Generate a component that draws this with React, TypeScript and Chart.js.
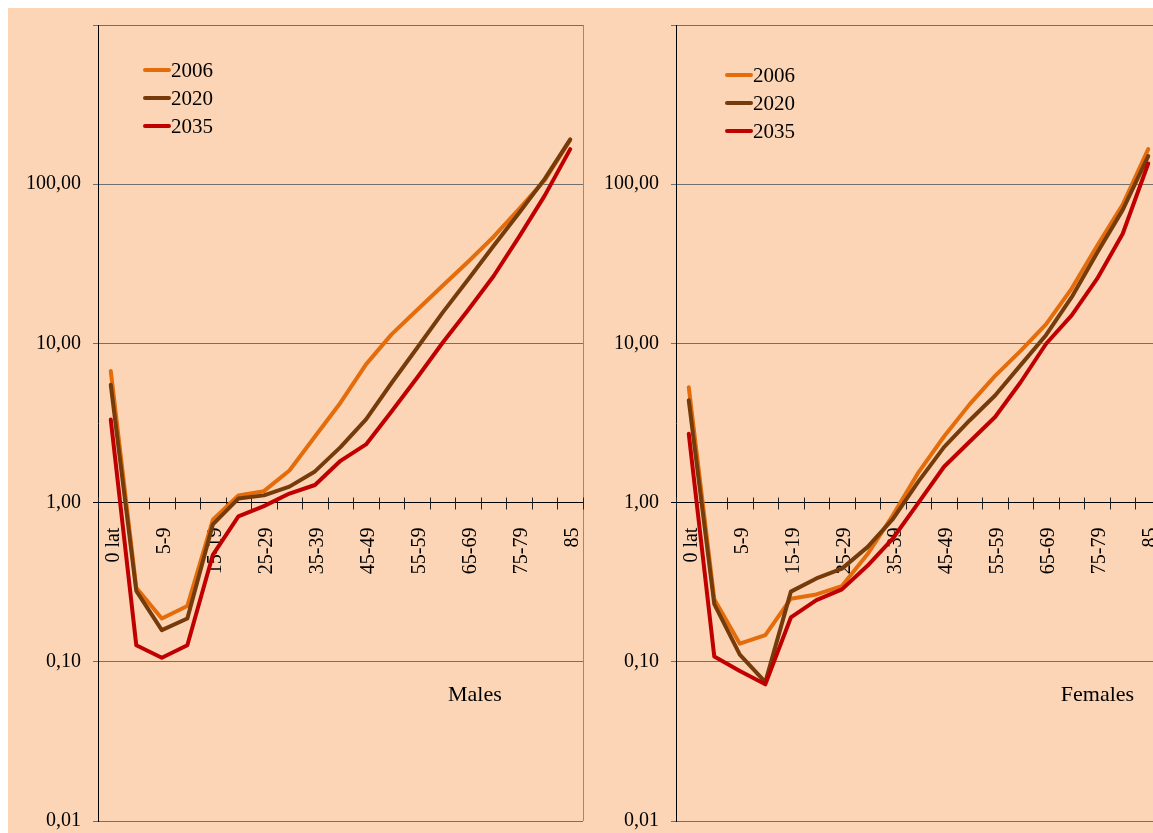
import React, { useEffect, useRef } from 'react';
import { Chart, registerables } from 'chart.js';

Chart.register(...registerables);

const SERIF = "'Liberation Serif', 'Times New Roman', serif";

const ageGroups = ['0 lat', '1-4', '5-9', '10-14', '15-19', '20-24', '25-29', '30-34', '35-39', '40-44', '45-49', '50-54', '55-59', '60-64', '65-69', '70-74', '75-79', '80-84', '85'];
const years = ['2006', '2020', '2035'];
const yTickValues = [0.01, 0.1, 1, 10, 100, 1000];

const males2006 = [6.7, 0.292, 0.187, 0.224, 0.78, 1.11, 1.18, 1.59, 2.6, 4.24, 7.38, 11.4, 16.2, 23, 32.6, 46.8, 70, 106, 190];
const males2020 = [5.5, 0.279, 0.158, 0.187, 0.73, 1.06, 1.11, 1.26, 1.57, 2.23, 3.33, 5.64, 9.35, 15.6, 25.2, 41.1, 66.2, 108, 191];
const males2035 = [3.33, 0.127, 0.106, 0.127, 0.47, 0.82, 0.95, 1.14, 1.29, 1.83, 2.32, 3.73, 6.09, 10.1, 16.2, 26.5, 46.8, 84.8, 166];

const females2006 = [5.3, 0.247, 0.13, 0.147, 0.249, 0.265, 0.299, 0.473, 0.835, 1.55, 2.6, 4.14, 6.25, 8.97, 13.2, 22.1, 41.1, 74.5, 166];
const females2020 = [4.4, 0.23, 0.111, 0.0745, 0.276, 0.334, 0.385, 0.525, 0.79, 1.36, 2.23, 3.28, 4.71, 7.3, 11.3, 19.5, 37.1, 69, 150];
const females2035 = [2.71, 0.108, 0.0875, 0.0722, 0.19, 0.244, 0.285, 0.401, 0.597, 1.0, 1.68, 2.41, 3.45, 5.7, 9.95, 15, 25.5, 48.8, 135];

const COLORS = ['#E46C0A', '#763B0B', '#C00000'];
const BG = '#FBD5B5';

const decorPlugin = {
  id: 'decor',
  beforeDatasetsDraw(chart: any, _args: any, _opts: any) {
    const { ctx, chartArea: a, scales } = chart;
    const xs = scales.x;
    const ys = scales.y;
    ctx.save();
    ctx.strokeStyle = '#8c8c8c';
    ctx.lineWidth = 1;
    const rx = Math.round(a.right) + 0.5;
    ctx.beginPath();
    ctx.moveTo(rx, a.top);
    ctx.lineTo(rx, a.bottom);
    ctx.stroke();
    const y0 = Math.round(ys.getPixelForValue(1)) + 0.5;
    const n = xs.ticks.length;
    const half = (xs.getPixelForValue(1) - xs.getPixelForValue(0)) / 2;
    ctx.strokeStyle = '#222';
    ctx.beginPath();
    for (let k = 0; k <= n; k++) {
      const px = Math.round(xs.getPixelForValue(k) - half) + 0.5;
      ctx.moveTo(px, y0 - 6);
      ctx.lineTo(px, y0 + 6);
    }
    ctx.stroke();
    ctx.restore();
  },
  afterDatasetsDraw(chart: any, _args: any, opts: any) {
    const { ctx, chartArea: a } = chart;
    ctx.save();
    const lx = a.left + opts.legendDx;
    chart.data.datasets.forEach((ds: any, i: number) => {
      const ly = a.top + opts.legendDy + i * 28;
      ctx.strokeStyle = ds.borderColor;
      ctx.lineWidth = 4;
      ctx.lineCap = 'round';
      ctx.beginPath();
      ctx.moveTo(lx + 2, ly);
      ctx.lineTo(lx + 26, ly);
      ctx.stroke();
      ctx.fillStyle = '#000';
      ctx.font = `21px ${SERIF}`;
      ctx.textAlign = 'left';
      ctx.textBaseline = 'middle';
      ctx.fillText(ds.label, lx + 28, ly + 1);
    });
    ctx.fillStyle = '#000';
    ctx.font = `22px ${SERIF}`;
    ctx.textAlign = 'center';
    ctx.textBaseline = 'middle';
    ctx.fillText(opts.title, a.left + opts.titleFx * (a.right - a.left), a.top + opts.titleFy * (a.bottom - a.top));
    ctx.restore();
  },
};

type PanelProps = {
  title: string;
  s2006: number[];
  s2020: number[];
  s2035: number[];
  legendDx: number;
  legendDy: number;
  titleFx: number;
  titleFy: number;
};

function Panel(p: PanelProps) {
  const ref = useRef<HTMLCanvasElement>(null);
  useEffect(() => {
    const series = [p.s2006, p.s2020, p.s2035];
    const chart = new Chart(ref.current as HTMLCanvasElement, {
      type: 'line',
      data: {
        labels: ageGroups,
        datasets: years.map((y, i) => ({
          label: y,
          data: series[i],
          borderColor: COLORS[i],
          backgroundColor: COLORS[i],
          order: 3 - i,
        })),
      },
      options: {
        responsive: false,
        animation: false,
        layout: { padding: { top: 17, right: 3, bottom: 12, left: 0 } },
        elements: {
          line: { borderWidth: 4, tension: 0, borderJoinStyle: 'round', borderCapStyle: 'round' },
          point: { radius: 0, hoverRadius: 0 },
        },
        plugins: {
          legend: { display: false },
          tooltip: { enabled: false },
          decor: {
            title: p.title,
            legendDx: p.legendDx,
            legendDy: p.legendDy,
            titleFx: p.titleFx,
            titleFy: p.titleFy,
          },
        } as any,
        scales: {
          x: {
            type: 'category',
            offset: true,
            position: { y: 1 } as any,
            grid: { display: false },
            border: { display: true, color: '#000', width: 1 },
            ticks: {
              autoSkip: false,
              minRotation: 90,
              maxRotation: 90,
              padding: 17,
              labelOffset: 3,
              color: '#000',
              font: { family: SERIF, size: 20 },
              callback: (_v: any, i: number) => (i % 2 === 0 ? ageGroups[i] : ''),
            },
            afterFit: (s: any) => {
              s.paddingLeft = 0;
              s.paddingRight = 0;
              s.paddingTop = 0;
              s.paddingBottom = 0;
            },
          },
          y: {
            type: 'logarithmic',
            position: 'left',
            min: 0.01,
            max: 1000,
            grid: {
              color: (c: any) => (c.tick && c.tick.value === 1 ? '#000' : '#707070'),
              lineWidth: 1,
              tickLength: 5,
              drawTicks: true,
            },
            border: { color: '#000', width: 1 },
            ticks: {
              padding: 12,
              color: '#000',
              font: { family: SERIF, size: 20 },
              callback: (v: any) => (Number(v) >= 1000 ? '' : Number(v).toFixed(2).replace('.', ',')),
            },
            afterBuildTicks: (s: any) => {
              s.ticks = yTickValues.map((v) => ({ value: v, major: true }));
            },
            afterFit: (s: any) => {
              s.width = 90;
              s.paddingTop = 0;
              s.paddingBottom = 0;
            },
          },
        } as any,
      },
      plugins: [decorPlugin as any],
    } as any);
    return () => chart.destroy();
  }, []);
  return <canvas ref={ref} width={578} height={825} style={{ display: 'block', flex: '0 0 auto' }} />;
}

export default function App() {
  useEffect(() => {
    document.body.style.margin = '8px 0 0 8px';
    document.documentElement.style.overflow = 'hidden';
  }, []);
  return (
    <div
      style={{
        width: 1145,
        height: 825,
        background: BG,
        overflow: 'hidden',
        display: 'flex',
        flexDirection: 'row',
      }}
    >
      <Panel title="Males" s2006={males2006} s2020={males2020} s2035={males2035} legendDx={45} legendDy={45} titleFx={0.777} titleFy={0.842} />
      <Panel title="Females" s2006={females2006} s2020={females2020} s2035={females2035} legendDx={49} legendDy={50} titleFx={0.869} titleFy={0.842} />
    </div>
  );
}
